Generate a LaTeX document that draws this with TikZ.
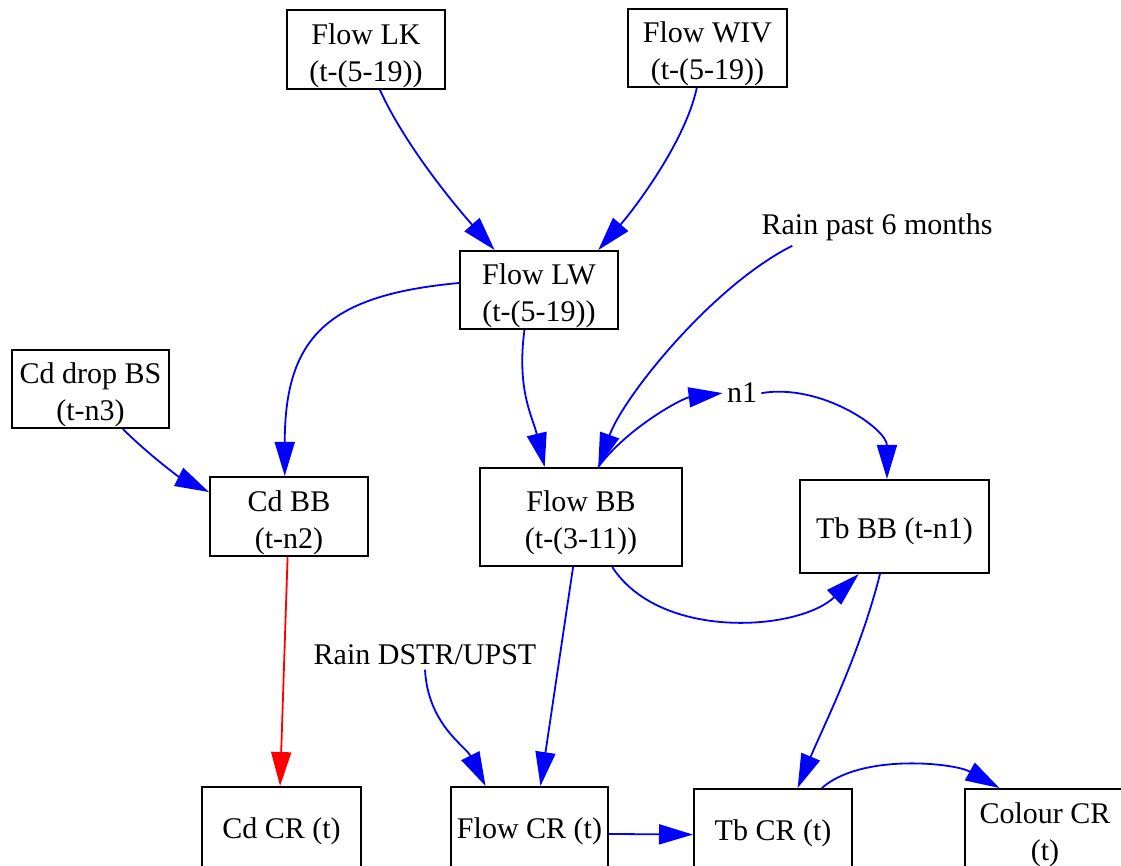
\documentclass[tikz,border=0pt]{standalone}
\usepackage{fontspec}
\setmainfont{Liberation Serif}
\usetikzlibrary{arrows.meta, positioning}

\begin{document}
\begin{tikzpicture}[
  x=0.5pt, y=-0.5pt,
  every node/.style={font=\fontsize{15}{18.5}\selectfont},
  box/.style={draw, line width=1pt, align=center, inner sep=0pt,
    execute at begin node=\rule{0pt}{15pt}},
  box2/.style={box, text height=35pt},
  plain/.style={inner sep=2pt},
  arrow/.style={-{Triangle[length=17pt, width=10pt]}, line width=0.9pt, blue},
  redarrow/.style={arrow, red}
]
\useasboundingbox (0,0) rectangle (1121,866);

% Sources
\node[box2, minimum width=79pt, minimum height=39.5pt] (lk) at (366,49.5) {Flow LK\\(t-(5-19))};
\node[box2, minimum width=79.5pt, minimum height=39pt] (wiv) at (707.5,48) {Flow WIV\\(t-(5-19))};
\node[box2, minimum width=79pt, minimum height=39pt] (lw) at (539,290) {Flow LW\\(t-(5-19))};
\node[plain, anchor=base] (rain6) at (877,235) {Rain past 6 months};
\node[box2, minimum width=78.5pt, minimum height=39pt] (cddrop) at (90.5,389) {Cd drop BS\\(t-n3)};
\node[plain, anchor=base] (n1) at (742,403) {n1};

% BB row
\node[box2, minimum width=79pt, minimum height=39.5pt] (cdbb) at (289,516.5) {Cd BB\\(t-n2)};
\node[box2, minimum width=101pt, minimum height=49pt] (flowbb) at (581,517) {Flow BB\\(t-(3-11))};
\node[box, minimum width=94.5pt, minimum height=46.5pt] (tbbb) at (894.5,526.5) {Tb BB (t-n1)};
\node[plain, anchor=base] (raind) at (425,665) {Rain DSTR/UPST};

% CR row
\node[box, minimum width=79.5pt, minimum height=40pt] (cdcr) at (281.5,827) {Cd CR (t)};
\node[box, minimum width=78.5pt, minimum height=40pt] (flowcr) at (529.5,827) {Flow CR (t)};
\node[box, minimum width=79pt, minimum height=40pt] (tbcr) at (773,829) {Tb CR (t)};
\node[box2, minimum width=80pt, minimum height=40pt] (colourcr) at (1045,829) {Colour CR\\(t)};

% Connectors
\draw[arrow] (lk.-71) .. controls +(25,55) and +(-40,-45) .. (lw.138);
\draw[arrow] (wiv.-105) .. controls +(-12,55) and +(35,-40) .. (lw.34);
\draw[arrow] (lw.175) .. controls +(-130,12) and +(0,-140) .. (cdbb.96);
\draw[arrow] (lw.-110) .. controls +(-8,60) and +(-12,-50) .. (flowbb.126);
\draw[arrow] (rain6.-168) .. controls +(-80,40) and +(25,-70) .. (flowbb.71);
\draw[arrow] (cddrop.-51) .. controls +(25,25) and +(-30,-15) .. (cdbb.163);
\draw[arrow] (flowbb.71) .. controls +(30,-40) and +(-40,5) .. (n1.west);
\draw[arrow] (n1.east) .. controls +(60,-10) and +(0,-50) .. (tbbb.99);
\draw[arrow] (flowbb.-58) .. controls +(48,74) and +(-60,57) .. (tbbb.-127);
\draw[redarrow] (cdbb.-92) -- (cdcr.92);
\draw[arrow] (flowbb.-99) -- (flowcr.75);
\draw[arrow] (raind.south) .. controls +(3,55) and +(-20,-40) .. (flowcr.137);
\draw[arrow] (tbbb.-107) .. controls +(-20,80) and +(25,-60) .. (tbcr.59);
\draw[arrow] (flowcr.-5) -- (tbcr.184);
\draw[arrow] (tbcr.40) .. controls +(40,-35) and +(-45,-25) .. (colourcr.138);

\end{tikzpicture}
\end{document}
